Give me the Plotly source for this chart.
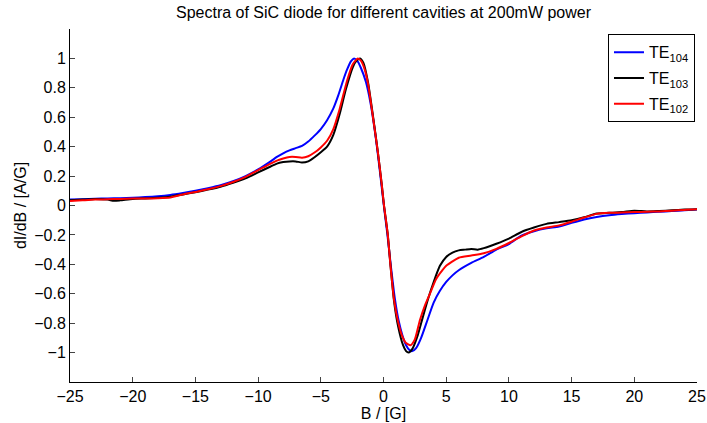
import plotly.graph_objects as go

# TE104 (blue)
b_104 = [-25, -24, -23, -22, -21, -20, -19, -18, -17, -16, -15, -14, -13, -12, -11, -10, -9, -8.5, -8, -7.5,
         -7, -6.5, -6, -5.5, -5, -4.5, -4, -3.6, -3.2, -2.9, -2.6, -2.35, -2.1, -1.8, -1.4, -1.0, -0.6, -0.3,
         0.0, 0.3, 0.6, 0.9, 1.2, 1.5, 1.8, 2.1, 2.3, 2.6, 3.0, 3.5, 4.0, 4.5, 5.0, 5.5, 6.0, 7.0, 8.0,
         9.0, 10.0, 11.0, 12.0, 13.0, 14.0, 15.0, 16.0, 17.0, 18.0, 19.0, 20.0, 21.0, 22.0, 23.0, 24.0, 25.0]
y_104 = [0.040, 0.043, 0.046, 0.048, 0.050, 0.053, 0.057, 0.063, 0.072, 0.085, 0.100, 0.118, 0.138, 0.165,
         0.200, 0.245, 0.300, 0.330, 0.355, 0.375, 0.390, 0.405, 0.435, 0.475, 0.520, 0.580, 0.660, 0.750,
         0.855, 0.925, 0.980, 1.000, 0.985, 0.935, 0.840, 0.680, 0.450, 0.240, 0.020, -0.190, -0.420, -0.630,
         -0.780, -0.880, -0.950, -0.985, -0.990, -0.970, -0.900, -0.780, -0.660, -0.580, -0.520, -0.475,
         -0.440, -0.390, -0.350, -0.300, -0.262, -0.205, -0.175, -0.155, -0.143, -0.118, -0.095, -0.078,
         -0.066, -0.058, -0.052, -0.047, -0.043, -0.038, -0.033, -0.028]

# TE103 (black)
b_103 = [-25, -24, -23, -22, -21.5, -21, -20, -19, -18, -17, -16, -15, -14, -13, -12, -11, -10, -9, -8.5, -8,
         -7.5, -7, -6.5, -6, -5.5, -5, -4.5, -4, -3.5, -3.0, -2.45, -2.15, -1.87, -1.6, -1.24, -0.84, -0.46,
         -0.15, 0.04, 0.33, 0.57, 0.84, 1.16, 1.56, 1.8, 2.0, 2.3, 2.7, 3.0, 3.5, 4.0, 4.5, 5.0, 5.5, 6.0,
         6.5, 7.0, 7.5, 8.0, 9.0, 10.0, 11.0, 12.0, 13.0, 14.0, 15.0, 16.0, 17.0, 18.0, 19.0, 20.0, 21.0,
         22.0, 23.0, 24.0, 25.0]
y_103 = [0.035, 0.040, 0.045, 0.040, 0.032, 0.035, 0.045, 0.048, 0.052, 0.060, 0.075, 0.090, 0.108, 0.128,
         0.155, 0.185, 0.225, 0.265, 0.285, 0.295, 0.300, 0.300, 0.292, 0.300, 0.328, 0.362, 0.400, 0.480,
         0.620, 0.790, 0.940, 0.985, 1.000, 0.970, 0.840, 0.610, 0.370, 0.150, 0.000, -0.190, -0.420,
         -0.650, -0.820, -0.950, -0.990, -1.000, -0.975, -0.890, -0.800, -0.650, -0.520, -0.410, -0.350,
         -0.320, -0.305, -0.300, -0.295, -0.300, -0.290, -0.260, -0.225, -0.180, -0.150, -0.125, -0.113,
         -0.100, -0.080, -0.055, -0.050, -0.045, -0.035, -0.040, -0.037, -0.033, -0.028, -0.025]

# TE102 (red)
b_102 = [-25, -24, -23, -22, -21, -20, -19, -18, -17, -16, -15, -14, -13, -12, -11, -10, -9, -8.5, -8, -7.5,
         -7, -6.5, -6, -5.5, -5, -4.5, -4, -3.5, -2.9, -2.45, -2.05, -1.8, -1.5, -1.24, -0.84, -0.46, -0.15,
         0.04, 0.33, 0.57, 0.84, 1.16, 1.5, 1.8, 2.15, 2.5, 2.9, 3.3, 3.7, 4.2, 4.7, 5.0, 5.5, 6.0, 7.0, 8.0,
         9.0, 10.0, 11.0, 12.0, 13.0, 14.0, 15.0, 16.0, 17.0, 18.0, 19.0, 20.0, 21.0, 22.0, 23.0, 24.0, 25.0]
y_102 = [0.030, 0.035, 0.040, 0.042, 0.045, 0.047, 0.048, 0.050, 0.055, 0.075, 0.092, 0.110, 0.132, 0.160,
         0.195, 0.240, 0.285, 0.305, 0.320, 0.330, 0.330, 0.325, 0.335, 0.360, 0.395, 0.440, 0.520, 0.655,
         0.850, 0.960, 1.000, 0.985, 0.925, 0.830, 0.600, 0.370, 0.150, 0.000, -0.190, -0.420, -0.640,
         -0.790, -0.890, -0.935, -0.950, -0.910, -0.780, -0.680, -0.600, -0.500, -0.440, -0.410, -0.380,
         -0.355, -0.340, -0.325, -0.295, -0.255, -0.210, -0.170, -0.150, -0.135, -0.110, -0.082, -0.057,
         -0.050, -0.048, -0.045, -0.042, -0.040, -0.036, -0.030, -0.026]

x_ticks = [-25, -20, -15, -10, -5, 0, 5, 10, 15, 20, 25]
y_ticks = [-1, -0.8, -0.6, -0.4, -0.2, 0, 0.2, 0.4, 0.6, 0.8, 1]

font = "Liberation Sans, Arial, Helvetica, sans-serif"

fig = go.Figure()
for b, y, name, col in [(b_104, y_104, "TE<sub>104</sub>", "#0000ff"),
                        (b_103, y_103, "TE<sub>103</sub>", "#000000"),
                        (b_102, y_102, "TE<sub>102</sub>", "#ff0000")]:
    fig.add_trace(go.Scatter(x=b, y=y, mode="lines", name=name, legendgroup=name,
                             line=dict(color=col, width=2, shape="spline", smoothing=0.6)))

fig.update_layout(
    width=707, height=423,
    margin=dict(l=70, r=10, t=29, b=41),
    paper_bgcolor="white", plot_bgcolor="white",
    font=dict(family=font, size=16, color="black"),
    title=dict(text="Spectra of SiC diode for different cavities at 200mW power",
               x=0.5, xref="paper", xanchor="center", y=1 - 12 / 423, yanchor="middle",
               font=dict(size=16), automargin=False),
    showlegend=True,
    legend=dict(x=0.9968, y=0.985, xanchor="right", yanchor="top",
                bordercolor="black", borderwidth=1, bgcolor="white",
                font=dict(size=16), tracegroupgap=2, itemwidth=30),
    xaxis=dict(range=[-25, 25], tickvals=x_ticks, ticks="inside", ticklen=5,
               showline=True, linecolor="black", linewidth=1, mirror=False,
               showgrid=False, zeroline=False, tickfont=dict(size=16), automargin=False,
               title=dict(text="B / [G]", standoff=1, font=dict(size=16))),
    yaxis=dict(range=[-1.2, 1.2], tickvals=y_ticks, ticks="inside", ticklen=5,
               showline=True, linecolor="black", linewidth=1, mirror=False,
               showgrid=False, zeroline=False, tickfont=dict(size=16), automargin=False,
               title=dict(text="dI/dB / [A/G]", standoff=3, font=dict(size=16))),
)

fig.write_html("out.html")
